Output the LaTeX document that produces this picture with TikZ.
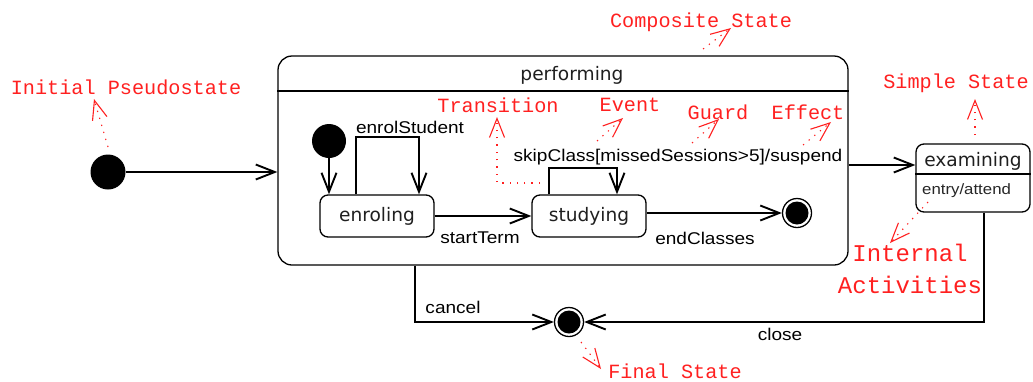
\documentclass[tikz,border=0pt]{standalone}
\usepackage{fontspec}
\setmainfont{Liberation Sans}
\newfontfamily\lblfont[FakeStretch=1.12]{Liberation Sans}
\newfontfamily\statefont{DejaVu Sans}
\newfontfamily\annotfont{Liberation Mono}
\usetikzlibrary{arrows.meta,calc}
\definecolor{annotred}{RGB}{255,32,32}

\begin{document}
\begin{tikzpicture}[x=1pt,y=-1pt,
  statebox/.style={draw, line width=1.3pt, rounded corners=8pt, inner sep=0pt},
  statename/.style={font=\statefont\fontsize{18.6}{20}\selectfont, text=black!88, inner sep=0pt},
  lbl/.style={font=\lblfont\fontsize{17}{19}\selectfont, inner sep=0pt},
  smalllbl/.style={font=\lblfont\fontsize{15}{17}\selectfont, text=black!85, inner sep=0pt},
  initstate/.style={circle, fill=black, minimum size=35pt, inner sep=0pt},
  finalstate/.style={circle, draw, line width=1.3pt, minimum size=29pt, inner sep=0pt,
    path picture={\fill (path picture bounding box.center) circle[radius=11.5pt];}},
  flow/.style={line width=1.9pt, -{Straight Barb[length=19pt,width=15pt]}},
  annot/.style={font=\annotfont\fontsize{20.2}{22}\selectfont, text=annotred, inner sep=0pt},
  bigannot/.style={font=\annotfont\fontsize{24}{32}\selectfont, text=annotred, inner sep=0pt, align=center},
  annotlink/.style={draw=annotred, line width=1.1pt, dash pattern=on 1.3pt off 6pt,
    -{Straight Barb[length=19pt,width=15pt]}},
]
\useasboundingbox (0,0) rectangle (1033,381);

% ---- states ----
\node[initstate] (init) at (108,172) {};
\node[statebox, rounded corners=14pt, minimum width=570pt, minimum height=209pt] (performing) at (563,160.5) {};
\draw[line width=1.3pt] (performing.west |- 0,91) -- (performing.east |- 0,91);
\node[statename] (performingName) at (572,75) {performing};

\node[initstate, minimum size=34pt] (subinit) at (329,141) {};
\node[statebox, statename, minimum width=114pt, minimum height=42pt] (enroling) at (377,216) {enroling};
\node[statebox, statename, minimum width=114pt, minimum height=42pt] (studying) at (589,216) {studying};
\node[finalstate] (subfinal) at (797,213) {};

\node[statebox, minimum width=114pt, minimum height=68pt] (examining) at (973,178) {};
\draw[line width=1.3pt] (examining.west |- 0,174) -- (examining.east |- 0,174);
\node[statename] (examiningName) at (973,161) {examining};
\node[smalllbl, anchor=west] (entryAct) at (922,191) {entry/attend};

\node[finalstate] (final) at (569,322) {};

% ---- transitions ----
\draw[flow] (init) -- (init -| performing.west);
\draw[flow] (subinit) -- (subinit |- enroling.north);
\draw[flow] ([xshift=-21pt]enroling.north) -- ++(0,-57) -| ([xshift=42pt]enroling.north);
\node[lbl] (enrolLbl) at (410,127) {enrolStudent};
\draw[flow] (enroling.east) -- (studying.west);
\node[lbl] (startLbl) at (480,238) {startTerm};
\draw[flow] ([xshift=-40pt]studying.north) -- ++(0,-26) -| ([xshift=28pt]studying.north);
\node[lbl] (skipLbl) at (678,157) {skipClass[missedSessions>5]/suspend};
\draw[flow] (studying.east |- subfinal.west) -- (subfinal.west);
\node[lbl] (endLbl) at (705,238) {endClasses};
\draw[flow] (performing.east |- 0,165) -- (examining.west |- 0,165);
\draw[flow] ([xshift=11pt]examining.south) |- (final.east);
\node[lbl] (closeLbl) at (780,334) {close};
\draw[flow] (performing.south -| 415,0) |- (final.west);
\node[lbl] (cancelLbl) at (453,307) {cancel};

% ---- annotations ----
\node[annot] (aInit) at (126,87) {Initial Pseudostate};
\coordinate (aInitFrom) at (108,147);
\coordinate (aInitTo) at (94,99);
\draw[annotlink] (aInitFrom) -- (aInitTo);

\node[annot] (aComp) at (701,22) {Composite State};
\coordinate (aCompFrom) at (703,49);
\coordinate (aCompTo) at (731,28);
\draw[annotlink] (aCompFrom) -- (aCompTo);

\node[annot] (aTrans) at (498,105) {Transition};
\coordinate (aTransFrom) at (540,183);
\coordinate (aTransTo) at (497,117);
\draw[annotlink] (aTransFrom) -| (aTransTo);

\node[annot] (aEvent) at (630,105) {Event};
\coordinate (aEventFrom) at (597,141);
\coordinate (aEventTo) at (623,118);
\draw[annotlink] (aEventFrom) -- (aEventTo);

\node[annot] (aGuard) at (718,112) {Guard};
\coordinate (aGuardFrom) at (692,143);
\coordinate (aGuardTo) at (719,119);
\draw[annotlink] (aGuardFrom) -- (aGuardTo);

\node[annot] (aEffect) at (808,112) {Effect};
\coordinate (aEffectFrom) at (803,145);
\coordinate (aEffectTo) at (831,122);
\draw[annotlink] (aEffectFrom) -- (aEffectTo);

\node[annot] (aSimple) at (956,83) {Simple State};
\coordinate (aSimpleFrom) at (975,135);
\coordinate (aSimpleTo) at (975,99);
\draw[annotlink] (aSimpleFrom) -- (aSimpleTo);

\node[bigannot] (aInternal) at (910,269) {Internal\\Activities};
\coordinate (aInternalFrom) at (928,202);
\coordinate (aInternalTo) at (890,243);
\draw[annotlink] (aInternalFrom) -- (aInternalTo);

\node[annot] (aFinal) at (675,371.5) {Final State};
\coordinate (aFinalFrom) at (581,342);
\coordinate (aFinalTo) at (601,369);
\draw[annotlink] (aFinalFrom) -- (aFinalTo);
\end{tikzpicture}
\end{document}
